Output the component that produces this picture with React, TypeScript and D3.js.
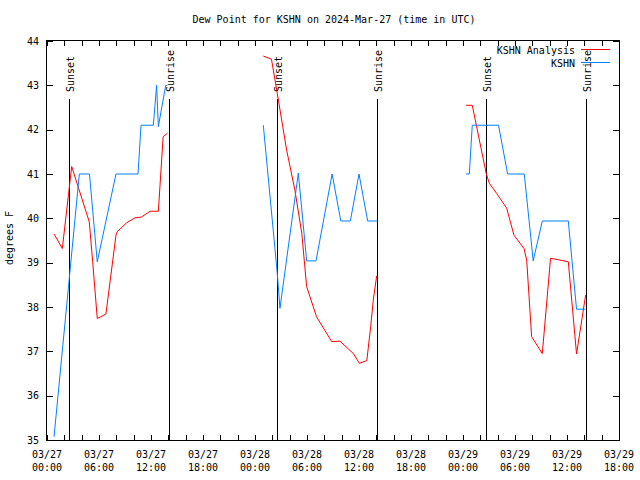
import React from "react";
import * as d3 from "d3";

const TITLE = "Dew Point for KSHN on 2024-Mar-27 (time in UTC)";
const Y_LABEL = "degrees F";
const SERIES_NAMES = ["KSHN Analysis", "KSHN"];
const SERIES_COLORS = ["#ff0000", "#0080ff"];

// hours since 2024-03-27 00:00 UTC
const sunsetHours = [2.5, 26.57, 50.69];
const sunriseHours = [14.11, 38.11, 62.23];

// KSHN observations (blue), one segment per night
const obsNight1Hours = [0.81, 3.73, 4.9, 5.8, 7.96, 10.5, 10.85, 12.27, 12.65, 12.85, 13.7, 13.9];
const obsNight1Values = [35.07, 41.0, 41.0, 39.02, 41.0, 41.0, 42.1, 42.1, 43.0, 42.07, 43.0, 43.0];
const obsNight2Hours = [24.96, 26.57, 26.88, 29.0, 29.96, 31.04, 32.9, 33.9, 35.0, 36.0, 37.0, 38.1];
const obsNight2Values = [42.1, 38.76, 37.97, 41.02, 39.04, 39.04, 41.0, 39.94, 39.94, 41.0, 39.94, 39.94];
const obsNight3Hours = [48.35, 48.73, 49.07, 52.1, 53.15, 55.07, 56.1, 57.15, 60.15, 61.1, 62.15];
const obsNight3Values = [41.0, 41.0, 42.1, 42.1, 41.0, 41.0, 39.04, 39.94, 39.94, 37.95, 37.95];

// KSHN Analysis (red)
const anaNight1Hours = [0.81, 1.77, 2.85, 4.88, 5.27, 5.8, 6.8, 7.96, 8.11, 9.19, 10.15, 10.9, 11.9, 12.85, 13.4, 13.9];
const anaNight1Values = [39.65, 39.32, 41.17, 39.92, 39.02, 37.74, 37.84, 39.62, 39.7, 39.9, 40.01, 40.03, 40.16, 40.16, 41.84, 41.92];
const anaNight2Hours = [24.96, 25.9, 26.57, 27.65, 28.6, 29.4, 29.96, 31.1, 32.85, 33.8, 35.35, 36.04, 36.9, 37.35, 37.65, 38.04];
const anaNight2Values = [43.66, 43.59, 42.82, 41.54, 40.64, 39.66, 38.46, 37.78, 37.22, 37.23, 36.95, 36.73, 36.79, 37.56, 38.16, 38.7];
const anaNight3Hours = [48.35, 49.07, 50.69, 51.04, 51.89, 53.04, 53.88, 54.58, 55.04, 55.35, 55.92, 57.15, 58.1, 60.15, 61.1, 62.15];
const anaNight3Values = [42.55, 42.55, 41.0, 40.79, 40.56, 40.23, 39.62, 39.44, 39.32, 39.06, 37.33, 36.95, 39.1, 39.02, 36.94, 38.27];

const Y_MIN = 35;
const Y_MAX = 44;
const X_START = Date.UTC(2024, 2, 27, 0, 0);
const X_SPAN_HOURS = 66;

const W = 640;
const H = 480;
const M = { left: 47, right: 21, top: 41, bottom: 40 };
const FONT = "'DejaVu Sans Mono', 'Liberation Mono', monospace";

const toDate = (h: number) => new Date(X_START + h * 3600e3);

export default function App() {
  const x = d3
    .scaleUtc()
    .domain([toDate(0), toDate(X_SPAN_HOURS)])
    .range([M.left, W - M.right]);
  const y = d3.scaleLinear().domain([Y_MIN, Y_MAX]).range([H - M.bottom, M.top]);

  const line = d3
    .line<[number, number]>()
    .x((d) => x(toDate(d[0])))
    .y((d) => y(d[1]));

  const zip = (hs: number[], vs: number[]) => hs.map((h, i) => [h, vs[i]] as [number, number]);

  const anaSegs = [
    zip(anaNight1Hours, anaNight1Values),
    zip(anaNight2Hours, anaNight2Values),
    zip(anaNight3Hours, anaNight3Values),
  ];
  const obsSegs = [
    zip(obsNight1Hours, obsNight1Values),
    zip(obsNight2Hours, obsNight2Values),
    zip(obsNight3Hours, obsNight3Values),
  ];

  const minorTicks = x.ticks(d3.utcHour.every(2)!);
  const majorTicks = x.ticks(d3.utcHour.every(6)!);
  const fmtDate = d3.utcFormat("%m/%d");
  const fmtTime = d3.utcFormat("%H:%M");
  const yTicks = y.ticks(9);

  const x0 = M.left;
  const x1 = W - M.right;
  const y0 = H - M.bottom;
  const y1 = M.top;
  const lineTop = 99;

  return (
    <svg
      width={W}
      height={H}
      style={{ position: "absolute", left: 0, top: 0, background: "#fff" }}
      fontFamily={FONT}
      fontSize={10}
    >
      <rect x={0} y={0} width={W} height={H} fill="#fff" />
      <text x={334} y={23} textAnchor="middle" fill="#000">
        {TITLE}
      </text>

      {/* y ticks */}
      {yTicks.map((t) => (
        <g key={"y" + t} shapeRendering="crispEdges">
          <line x1={x0} x2={x0 + 6} y1={Math.round(y(t)) + 0.5} y2={Math.round(y(t)) + 0.5} stroke="#000" />
          <line x1={x1 - 6} x2={x1} y1={Math.round(y(t)) + 0.5} y2={Math.round(y(t)) + 0.5} stroke="#000" />
          <text x={39} y={y(t)} textAnchor="end" dominantBaseline="central" fill="#000">
            {t}
          </text>
        </g>
      ))}

      {/* x ticks */}
      {minorTicks.map((t) => {
        const px = Math.round(x(t)) + 0.5;
        return (
          <g key={"xt" + +t} shapeRendering="crispEdges">
            <line x1={px} x2={px} y1={y0} y2={y0 - 5} stroke="#000" />
            <line x1={px} x2={px} y1={y1} y2={y1 + 5} stroke="#000" />
          </g>
        );
      })}
      {majorTicks.map((t) => (
        <g key={"xl" + +t}>
          <text x={x(t)} y={458} textAnchor="middle" fill="#000">
            {fmtDate(t)}
          </text>
          <text x={x(t)} y={471} textAnchor="middle" fill="#000">
            {fmtTime(t)}
          </text>
        </g>
      ))}

      {/* y label */}
      <text
        transform={`translate(13,238) rotate(-90)`}
        textAnchor="middle"
        fill="#000"
      >
        {Y_LABEL}
      </text>

      {/* sunset / sunrise markers */}
      {sunsetHours.map((h) => {
        const px = Math.round(x(toDate(h))) + 0.5;
        return (
          <g key={"ss" + h}>
            <line x1={px} x2={px} y1={y0} y2={lineTop} stroke="#000" shapeRendering="crispEdges" />
            <text transform={`translate(${px + 4},92) rotate(-90)`} fill="#000">
              Sunset
            </text>
          </g>
        );
      })}
      {sunriseHours.map((h) => {
        const px = Math.round(x(toDate(h))) + 0.5;
        return (
          <g key={"sr" + h}>
            <line x1={px} x2={px} y1={y0} y2={lineTop} stroke="#000" shapeRendering="crispEdges" />
            <text transform={`translate(${px + 4},92) rotate(-90)`} fill="#000">
              Sunrise
            </text>
          </g>
        );
      })}

      {/* data */}
      {anaSegs.map((s, i) => (
        <path key={"a" + i} d={line(s) || ""} fill="none" stroke={SERIES_COLORS[0]} strokeWidth={1} />
      ))}
      {obsSegs.map((s, i) => (
        <path key={"o" + i} d={line(s) || ""} fill="none" stroke={SERIES_COLORS[1]} strokeWidth={1} />
      ))}

      {/* legend */}
      {SERIES_NAMES.map((n, i) => (
        <g key={n}>
          <text x={575} y={50 + i * 13} textAnchor="end" dominantBaseline="central" fill="#000">
            {n}
          </text>
          <line
            x1={581}
            x2={610}
            y1={49.5 + i * 13}
            y2={49.5 + i * 13}
            stroke={SERIES_COLORS[i]}
            shapeRendering="crispEdges"
          />
        </g>
      ))}

      {/* frame */}
      <rect
        x={x0 - 0.5}
        y={y1 - 0.5}
        width={x1 - x0 + 1}
        height={y0 - y1 + 1}
        fill="none"
        stroke="#000"
        shapeRendering="crispEdges"
      />
    </svg>
  );
}
